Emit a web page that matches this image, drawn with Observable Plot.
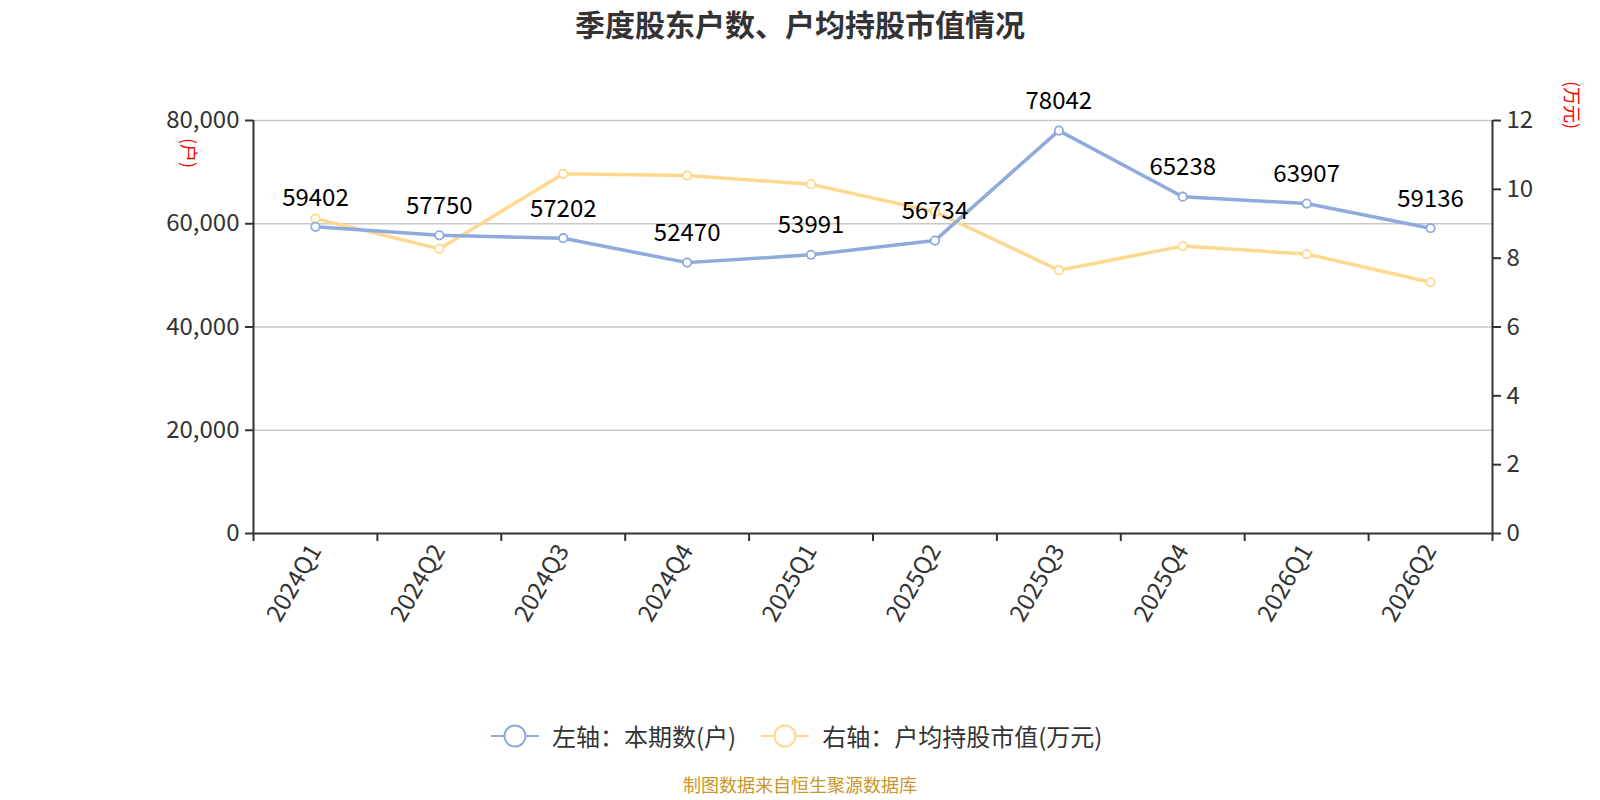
<!DOCTYPE html>
<html>
<head>
<meta charset="utf-8">
<script src="https://cdn.jsdelivr.net/npm/d3@7"></script>
<script src="https://cdn.jsdelivr.net/npm/@observablehq/plot@0.6"></script>
<style>
  html, body { margin: 0; padding: 0; background: #fff; }
  body { font-family: "Noto Sans CJK SC", "Noto Sans", sans-serif; }
  #wrap { position: relative; width: 1600px; height: 800px; overflow: hidden; }
  #title { position: absolute; top: 1px; left: 0; width: 1600px; text-align: center; font-size: 30px; font-weight: bold; color: #333; }
  #chart { position: absolute; top: 0; left: 0; }
  .unit { position: absolute; color: red; font-size: 18px; transform: translate(-50%, -50%) rotate(90deg); white-space: nowrap; line-height: 1; }
  #legend { position: absolute; top: 718px; left: 490px; display: flex; align-items: center; font-size: 24px; color: #333; }
  #legend .item { display: flex; align-items: center; margin-right: 24px; }
  #legend svg { margin-right: 12px; }
  #caption { position: absolute; top: 772px; left: 0; width: 1600px; text-align: center; font-size: 18px; line-height: 24px; color: #c8962a; }
</style>
</head>
<body>
<div id="wrap">
  <div id="title">季度股东户数、户均持股市值情况</div>
  <div id="chart"></div>
  <div class="unit" style="left:190px; top:153px;">(户)</div>
  <div class="unit" style="left:1573px; top:105px;">(万元)</div>
  <div id="legend">
    <div class="item">
      <svg width="50" height="28"><line x1="1" y1="14" x2="49" y2="14" stroke="#8FAADC" stroke-width="2"/><circle cx="25" cy="14" r="10.5" fill="#fff" stroke="#8FAADC" stroke-width="2"/></svg>
      <span>左轴：本期数(户)</span>
    </div>
    <div class="item">
      <svg width="50" height="28"><line x1="1" y1="14" x2="49" y2="14" stroke="#FFD890" stroke-width="2"/><circle cx="25" cy="14" r="10.5" fill="#fff" stroke="#FFD890" stroke-width="2"/></svg>
      <span>右轴：户均持股市值(万元)</span>
    </div>
  </div>
  <div id="caption">制图数据来自恒生聚源数据库</div>
</div>
<script>
const categories = ["2024Q1","2024Q2","2024Q3","2024Q4","2025Q1","2025Q2","2025Q3","2025Q4","2026Q1","2026Q2"];
const holders = [59402, 57750, 57202, 52470, 53991, 56734, 78042, 65238, 63907, 59136];
const avgValue = [9.15, 8.27, 10.45, 10.4, 10.15, 9.35, 7.65, 8.35, 8.12, 7.3];
const leftTicks = [0, 20000, 40000, 60000, 80000];
const rightTicks = [0, 2, 4, 6, 8, 10, 12];

const blue = "#8FAADC";
const yellow = "#FFD890";
const k = 80000 / 12;

const data = categories.map((c, i) => ({ i, c, holders: holders[i], avg: avgValue[i] }));

const chart = Plot.plot({
  width: 1600,
  height: 690,
  marginLeft: 253,
  marginRight: 108,
  marginTop: 120,
  marginBottom: 157,
  style: { fontFamily: "'Noto Sans CJK SC', 'Noto Sans', sans-serif", background: "transparent" },
  x: { type: "linear", domain: [0, categories.length], axis: null },
  y: { domain: [0, 80000], axis: null },
  marks: [
    Plot.gridY({ ticks: leftTicks.slice(1), stroke: "#c8c8c8", strokeOpacity: 1, strokeWidth: 1.5 }),
    Plot.axisY({ ticks: leftTicks, tickFormat: d3.format(","), tickSize: 8, tickPadding: 6, fontSize: 24, color: "#333", stroke: "#333", strokeWidth: 2, label: null }),
    Plot.axisY({ anchor: "right", ticks: rightTicks.map(t => t * k), tickFormat: d => String(Math.round(d / k)), tickSize: 8, tickPadding: 6, fontSize: 24, color: "#333", stroke: "#333", strokeWidth: 2, label: null }),
    Plot.axisX({ ticks: d3.range(0, categories.length + 1), tickFormat: () => "", tickSize: 8, stroke: "#333", strokeWidth: 2, label: null }),
    Plot.axisX({ ticks: categories.map((c, i) => i + 0.5), tickFormat: d => categories[Math.floor(d)], tickSize: 0, tickPadding: 13, tickRotate: -60, fontSize: 24, color: "#333", label: null }),
    Plot.ruleX([0, categories.length], { stroke: "#333", strokeWidth: 2 }),
    Plot.ruleY([0], { stroke: "#333", strokeWidth: 2 }),
    Plot.line(data, { x: d => d.i + 0.5, y: d => d.avg * k, stroke: yellow, strokeWidth: 3.5 }),
    Plot.line(data, { x: d => d.i + 0.5, y: "holders", stroke: blue, strokeWidth: 3.5 }),
    Plot.dot(data, { x: d => d.i + 0.5, y: d => d.avg * k, r: 4.2, fill: "#fff", stroke: yellow, strokeWidth: 1.8 }),
    Plot.dot(data, { x: d => d.i + 0.5, y: "holders", r: 4.2, fill: "#fff", stroke: blue, strokeWidth: 1.8 }),
    Plot.text(data, { x: d => d.i + 0.5, y: "holders", text: d => String(d.holders), dy: -29, fontSize: 24, fill: "#000" })
  ]
});
document.getElementById("chart").appendChild(chart);
</script>
</body>
</html>
